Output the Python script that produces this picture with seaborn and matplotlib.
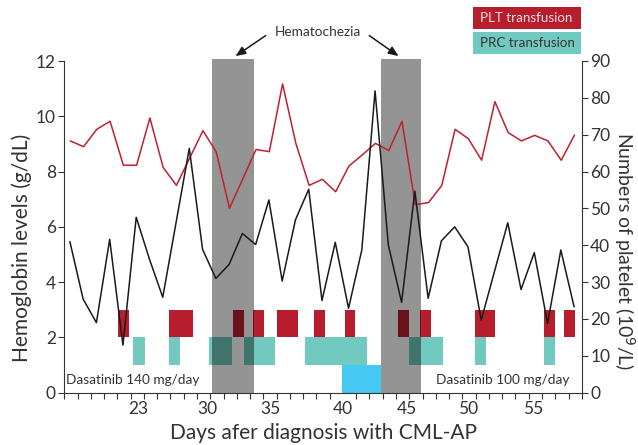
import matplotlib
matplotlib.use("Agg")
import matplotlib.pyplot as plt
from matplotlib.patches import Rectangle
import seaborn as sns
import pandas as pd

# ------------------------------------------------------------
# Datos (indice de dia en el eje x)
# ------------------------------------------------------------
hb_days = [0, 1, 2, 3, 4, 5, 6, 7, 8, 10, 11, 12, 14, 15, 16, 17, 18, 19, 20,
           21, 22, 23, 24, 25, 26, 27, 28, 29, 30, 31, 32, 33, 34, 35, 36, 37, 38]
hb_values = [9.11, 8.90, 9.53, 9.82, 8.23, 8.23, 9.94, 8.15, 7.50, 9.48, 8.71, 6.67,
             8.80, 8.72, 11.17, 9.02, 7.50, 7.72, 7.27, 8.20, 8.60, 9.02, 8.76, 9.82,
             6.80, 6.88, 7.50, 9.53, 9.19, 8.41, 10.53, 9.41, 9.11, 9.31, 9.11, 8.41, 9.32]

plt_days = [0, 1, 2, 3, 4, 5, 6, 7, 9, 10, 11, 12, 13, 14, 15, 16, 17, 18, 19, 20,
            21, 22, 23, 24, 25, 26, 27, 28, 29, 30, 31, 33, 34, 35, 36, 37, 38]
plt_values = [41.0, 25.4, 19.0, 41.6, 12.9, 47.6, 36.2, 25.9, 66.3, 38.9, 31.0, 34.8,
              43.2, 40.2, 52.3, 30.3, 46.9, 55.2, 25.0, 40.8, 22.9, 38.7, 81.9, 40.1,
              24.5, 54.7, 25.6, 41.2, 45.0, 39.6, 19.7, 46.1, 28.0, 38.0, 18.8, 38.7, 23.3]

# transfusiones de plaquetas (inicio, fin)
plt_tx_start = [4.02, 7.87, 12.74, 14.25, 16.03, 18.82, 21.13, 25.17, 26.83, 30.95, 36.15, 37.63]
plt_tx_end = [4.85, 9.72, 13.54, 15.05, 17.61, 19.62, 21.93, 26.00, 27.63, 32.46, 36.95, 38.46]

# transfusiones de hematies (inicio, fin)
prc_tx_start = [5.15, 7.87, 10.93, 13.57, 18.14, 26.00, 30.95, 36.15]
prc_tx_end = [6.06, 8.74, 12.66, 15.88, 22.84, 28.56, 31.78, 36.95]

other_start = [20.90]
other_end = [23.87]

hemato_start = [11.16, 23.84]
hemato_end = [14.30, 26.88]

xtick_pos = [5.6, 10.8, 15.55, 21.0, 25.8, 30.45, 35.35]
xtick_labels = ["23", "30", "35", "40", "45", "50", "55"]

# ------------------------------------------------------------
# Estilo
# ------------------------------------------------------------
sns.set_style("ticks")
plt.rcParams["font.family"] = ["Lato", "DejaVu Sans"]

RED = "#b71e2d"
LINE_RED = "#c0202f"
TEAL = "#72c9bf"
BLUE = "#45c8f2"
AX_COL = "#333333"

fig = plt.figure(figsize=(6.38, 4.45), dpi=100)
ax = fig.add_axes([64.3 / 638, 1 - 392.7 / 445, 517.5 / 638, 331.7 / 445])
ax2 = ax.twinx()

# barras de transfusion
ax.bar(plt_tx_start, 1.0, width=[e - s for s, e in zip(plt_tx_start, plt_tx_end)],
       bottom=2.0, align="edge", color=RED, linewidth=0, zorder=1)
ax.bar(prc_tx_start, 1.0, width=[e - s for s, e in zip(prc_tx_start, prc_tx_end)],
       bottom=1.0, align="edge", color=TEAL, linewidth=0, zorder=1)
ax.bar(other_start, 1.0, width=[e - s for s, e in zip(other_start, other_end)],
       bottom=0.0, align="edge", color=BLUE, linewidth=0, zorder=1)

# periodos de hematoquecia
for s, e in zip(hemato_start, hemato_end):
    ax.axvspan(s, e, ymin=0, ymax=1.006, color="black", alpha=0.42, linewidth=0,
               zorder=2, clip_on=False)

# lineas
df_hb = pd.DataFrame({"day": [d + 0.45 for d in hb_days], "hb": hb_values})
df_plt = pd.DataFrame({"day": [d + 0.42 for d in plt_days], "plt": plt_values})
sns.lineplot(data=df_hb, x="day", y="hb", ax=ax, color=LINE_RED, linewidth=1.1, zorder=4)
sns.lineplot(data=df_plt, x="day", y="plt", ax=ax2, color="#1a1a1a", linewidth=1.1, zorder=4)

# ejes
ax.set_xlim(0, 39)
ax.set_ylim(0, 12)
ax2.set_ylim(0, 90)
ax.set_yticks(range(0, 13, 2))
ax2.set_yticks(range(0, 91, 10))
ax.set_xticks(range(0, 40), minor=True)
ax.set_xticks(xtick_pos)
ax.set_xticklabels(xtick_labels)
ax.tick_params(axis="x", which="major", length=0, labelsize=12.5, colors=AX_COL, pad=6)
ax.tick_params(axis="x", which="minor", length=4.5, width=0.8, color=AX_COL)
ax.tick_params(axis="y", length=4, width=0.8, labelsize=12.5, colors=AX_COL, pad=2)
ax2.tick_params(axis="y", length=4, width=0.8, labelsize=12.5, colors=AX_COL, pad=2)

for a in (ax, ax2):
    a.spines["top"].set_visible(False)
    for sp in a.spines.values():
        sp.set_linewidth(0.8)
        sp.set_color(AX_COL)
ax.spines["right"].set_visible(False)
ax2.spines["left"].set_visible(False)
ax2.spines["bottom"].set_visible(False)

ax.set_xlabel("Days afer diagnosis with CML-AP", fontsize=15, color=AX_COL, labelpad=4)
ax.set_ylabel("Hemoglobin levels (g/dL)", fontsize=15, color=AX_COL)
ax2.set_ylabel("Numbers of platelet (10$^9$/L)", fontsize=14, color=AX_COL, rotation=270)
ax.yaxis.label.set_verticalalignment("center")
ax2.yaxis.label.set_verticalalignment("center")
ax.yaxis.set_label_coords((21.7 - 64.3) / 517.5, (392.7 - 248) / 331.7)
ax2.yaxis.set_label_coords((624 - 64.3) / 517.5, (392.7 - 251) / 331.7)

# textos de dosis
ax.text(0.13, 0.45, "Dasatinib 140 mg/day", fontsize=9.8, color=AX_COL,
        ha="left", va="center", zorder=5)
ax.text(38.1, 0.45, "Dasatinib 100 mg/day", fontsize=9.8, color=AX_COL,
        ha="right", va="center", zorder=5)

# anotacion hematoquecia
ax.annotate("", xy=((hemato_start[0] + hemato_end[0]) / 2, 12.12), xycoords="data",
            xytext=(268 / 638, 1 - 34 / 445), textcoords="figure fraction",
            arrowprops=dict(arrowstyle="-|>,head_width=0.25,head_length=0.6",
                            color="#1a1a1a", lw=1.1), annotation_clip=False)
ax.annotate("", xy=((hemato_start[1] + hemato_end[1]) / 2, 12.12), xycoords="data",
            xytext=(367 / 638, 1 - 34 / 445), textcoords="figure fraction",
            arrowprops=dict(arrowstyle="-|>,head_width=0.25,head_length=0.6",
                            color="#1a1a1a", lw=1.1), annotation_clip=False)
fig.text(318 / 638, 1 - 32 / 445, "Hematochezia", fontsize=9.8, color=AX_COL,
         ha="center", va="center")

# leyenda de transfusiones
fig.add_artist(Rectangle((472.7 / 638, 1 - 29.3 / 445), 108.3 / 638, 22.6 / 445,
                         transform=fig.transFigure, color=RED, linewidth=0))
fig.add_artist(Rectangle((472.7 / 638, 1 - 54.3 / 445), 108.3 / 638, 22.6 / 445,
                         transform=fig.transFigure, color=TEAL, linewidth=0))
fig.text(480 / 638, 1 - 18 / 445, "PLT transfusion", fontsize=9.6, color="#f6dde0",
         ha="left", va="center")
fig.text(480 / 638, 1 - 43 / 445, "PRC transfusion", fontsize=9.6, color=AX_COL,
         ha="left", va="center")

fig.savefig("out.png", dpi=100)
